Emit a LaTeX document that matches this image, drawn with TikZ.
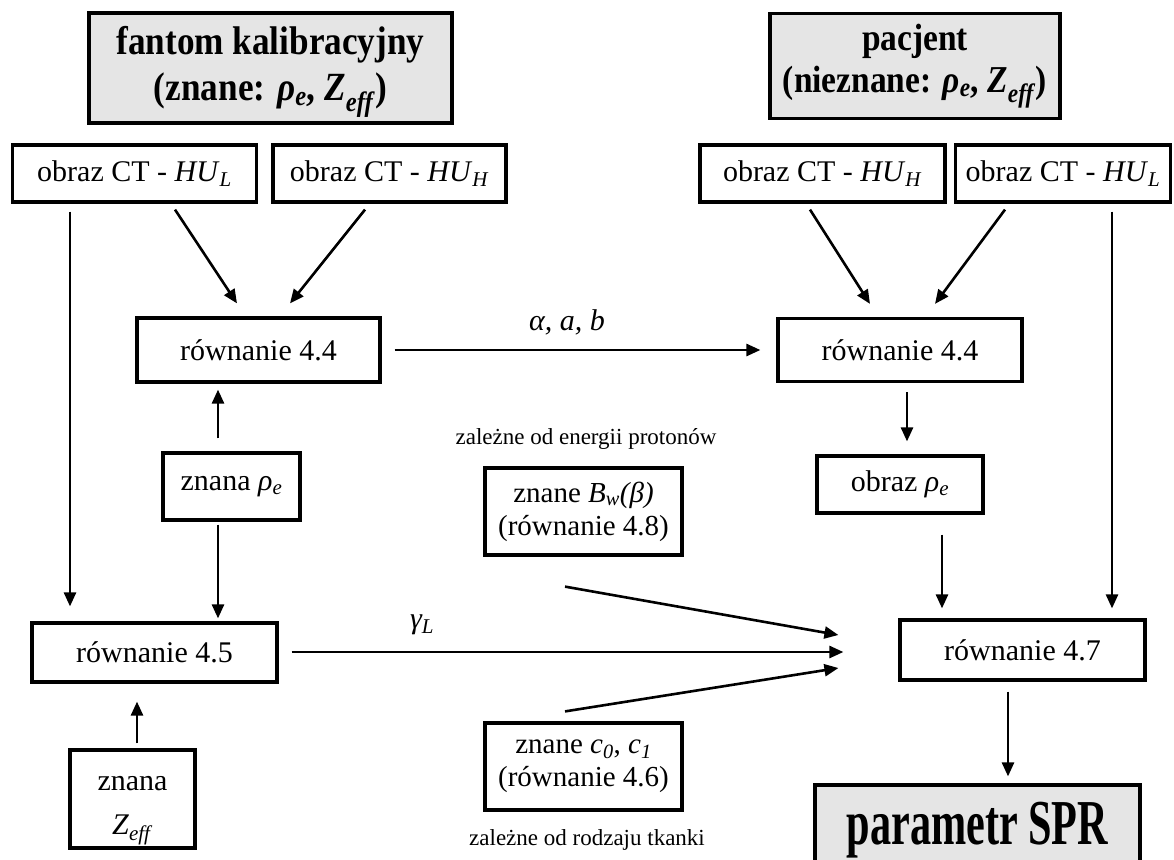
\documentclass[tikz,border=0pt]{standalone}
\usepackage{fontspec}
\setmainfont{Liberation Serif}
\newfontfamily\hdrfont[FakeStretch=0.88]{Liberation Serif}
\newfontfamily\sprfont[FakeStretch=0.66]{Liberation Serif}
\usetikzlibrary{arrows.meta}
\newcommand{\itx}[1]{\textit{#1}}
\newcommand{\isub}[2]{\textit{#1}\textsubscript{\textit{#2}}}
\begin{document}
\begin{tikzpicture}[x=1pt,y=-1pt,
 box/.style={draw, line width=3.2pt, inner sep=0pt, minimum height=57pt, align=center, font=\fontsize{30}{34}\selectfont},
 hdr/.style={draw, line width=3.2pt, fill=gray!20, inner sep=0pt, align=center, font=\hdrfont\bfseries\fontsize{38}{42}\selectfont},
 arr/.style={line width=2.6pt, -{Triangle[length=14pt,width=12pt]}},
 small/.style={font=\fontsize{23}{26}\selectfont},
 lbl/.style={font=\itshape\fontsize{30}{34}\selectfont}
]
\useasboundingbox (0,0) rectangle (1174,859);
\clip (0,0) rectangle (1174,859);

\node[hdr, minimum width=363pt, minimum height=110pt, font=\hdrfont\bfseries\fontsize{40}{46}\selectfont] (hA) at (270.5,68) {\rule{0pt}{36pt}fantom kalibracyjny\\(znane: \isub{ρ}{e}, \isub{Z}{eff})};
\node[hdr, minimum width=290pt, minimum height=105pt] (hB) at (915,66) {pacjent\\(nieznane: \isub{ρ}{e}, \isub{Z}{eff})};

\node[box, minimum width=244pt] (ctL1) at (134.5,173.5) {obraz CT - \isub{HU}{L}};
\node[box, minimum width=233pt] (ctL2) at (389.5,173.5) {obraz CT - \isub{HU}{H}};
\node[box, minimum width=245pt] (ctR1) at (822.5,173.5) {obraz CT - \isub{HU}{H}};
\node[box, minimum width=215pt] (ctR2) at (1063,173.5) {obraz CT - \isub{HU}{L}};

\node[box, minimum width=243pt, minimum height=64pt] (eq44L) at (258.5,350) {równanie 4.4};
\node[box, minimum width=244pt, minimum height=63pt] (eq44R) at (900,350) {równanie 4.4};
\node[box, minimum width=137pt, minimum height=67pt] (rhoL) at (231.5,486.5) {znana \isub{ρ}{e}};
\node[box, minimum width=166pt, minimum height=57pt] (rhoR) at (900,484.5) {obraz \isub{ρ}{e}};
\node[box, minimum width=245pt, minimum height=59pt] (eq45) at (154.5,652.5) {równanie 4.5};
\node[box, minimum width=245pt, minimum height=60pt] (eq47) at (1022.5,650) {równanie 4.7};
\node[box, minimum width=125pt, minimum height=98pt] (zeff) at (132.5,799) {\rule{0pt}{38pt}znana\\[10pt]\isub{Z}{eff}};
\node[box, minimum width=197pt, minimum height=87pt, font=\fontsize{29}{33}\selectfont] (bw) at (583.5,511.5) {znane \isub{B}{w}\itx{(β)}\\(równanie 4.8)};
\node[box, minimum width=197pt, minimum height=87pt, font=\fontsize{29}{33}\selectfont] (c01) at (583.5,766.5) {znane \isub{c}{0}, \isub{c}{1}\\(równanie 4.6)};
\node[draw, line width=3.2pt, fill=gray!20, inner sep=0pt, minimum width=325pt, minimum height=90pt, font=\sprfont\bfseries\fontsize{64}{68}\selectfont] (spr) at (977.5,830) {parametr SPR};

\node[small] (tBw) at (586,439) {zależne od energii protonów};
\node[small] (tc) at (587,840) {zależne od rodzaju tkanki};
\node[lbl] (la) at (567,322) {α, a, b};
\node[lbl] (lg) at (422,625) {γ\textsubscript{L}};

\draw[arr] ([xshift=-64.5pt,yshift=-8pt]ctL1.south) -- ([xshift=-84.5pt,yshift=15pt]eq45.north);
\draw[arr] ([xshift=40.5pt,yshift=-6pt]ctL1.south) -- ([xshift=-21.5pt,yshift=13pt]eq44L.north);
\draw[arr] ([xshift=-24.5pt,yshift=-6pt]ctL2.south) -- ([xshift=31.5pt,yshift=13pt]eq44L.north);
\draw[arr] ([xshift=-13.5pt,yshift=13pt]rhoL.north) -- ([xshift=-40.5pt,yshift=-6pt]eq44L.south);
\draw[arr] ([xshift=-13.5pt,yshift=-3pt]rhoL.south) -- ([xshift=63.5pt,yshift=3pt]eq45.north);
\draw[arr] ([xshift=4.5pt,yshift=5pt]zeff.north) -- ([xshift=-17.5pt,yshift=-18pt]eq45.south);
\draw[arr] ([xshift=13pt]eq44L.east) -- ([xshift=-16pt]eq44R.west);
\draw[arr] ([xshift=-12.5pt,yshift=-6pt]ctR1.south) -- ([xshift=-30pt,yshift=13pt]eq44R.north);
\draw[arr] ([xshift=-58pt,yshift=-6pt]ctR2.south) -- ([xshift=35pt,yshift=13pt]eq44R.north);
\draw[arr] ([xshift=49pt,yshift=-8pt]ctR2.south) -- ([xshift=89.5pt,yshift=10pt]eq47.north);
\draw[arr] ([xshift=7pt,yshift=-9pt]eq44R.south) -- ([xshift=7pt,yshift=13pt]rhoR.north);
\draw[arr] ([xshift=42pt,yshift=-20pt]rhoR.south) -- ([xshift=-80.5pt,yshift=10pt]eq47.north);
\draw[arr] ([xshift=-18.5pt,yshift=-30pt]bw.south) -- ([xshift=-60pt,yshift=15pt]eq47.west);
\draw[arr] ([xshift=13pt,yshift=0.5pt]eq45.east) -- ([xshift=-55pt,yshift=-2pt]eq47.west);
\draw[arr] ([xshift=-18.5pt,yshift=10pt]c01.north) -- ([xshift=-60pt,yshift=-18pt]eq47.west);
\draw[arr] ([xshift=-14.5pt,yshift=-10pt]eq47.south) -- ([xshift=30.5pt,yshift=7pt]spr.north);
\end{tikzpicture}
\end{document}
